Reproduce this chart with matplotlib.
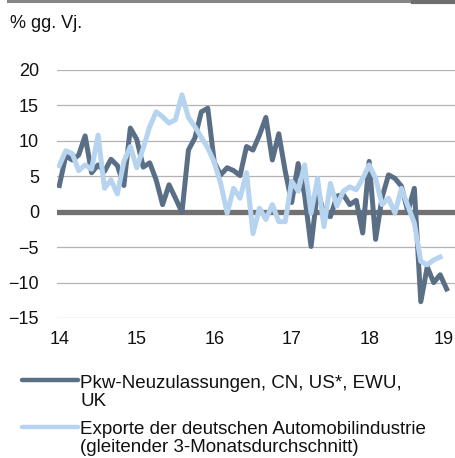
import matplotlib
matplotlib.use("Agg")
import matplotlib.pyplot as plt
import numpy as np
from matplotlib.lines import Line2D
from matplotlib.transforms import ScaledTranslation

plt.rcParams["font.family"] = ["Liberation Sans", "DejaVu Sans"]

# monthly values, Jan 2014 onwards
pkw = [3.7, 7.9, 7.3, 8.0, 10.7, 5.5, 6.6, 5.7, 7.4, 6.5, 3.7, 11.8,
       10.2, 6.3, 6.9, 4.5, 1.0, 3.8, 1.9, -0.1, 8.7, 10.4, 14.1, 14.6,
       7.0, 5.2, 6.2, 5.8, 5.1, 9.2, 8.7, 10.8, 13.3, 7.3, 11.0, 5.7,
       1.3, 6.8, 2.4, -4.9, 3.1, -0.3, -0.7, 2.2, 2.4, 1.0, 1.6, -3.0,
       7.1, -3.9, 2.0, 5.2, 4.7, 3.6, 0.0, 3.3, -12.7, -7.8, -10.0, -8.9,
       -10.9]
exporte = [6.5, 8.6, 8.2, 5.8, 6.6, 6.0, 10.8, 3.3, 4.5, 2.5, 7.1, 9.2,
           6.2, 9.0, 12.0, 14.1, 13.4, 12.5, 13.0, 16.5, 13.3, 12.0, 10.5, 9.0,
           7.0, 4.0, -0.2, 3.3, 1.9, 5.5, -3.1, 0.5, -1.1, 1.0, -1.4, -1.4,
           4.3, 2.9, 6.6, -0.2, 4.7, -2.1, 4.0, 0.8, 2.9, 3.5, 3.1, 4.7,
           6.6, 4.7, 1.0, 1.9, -0.2, 3.3, 0.8, -1.6, -7.0, -7.5, -6.8, -6.4]
year_ticks = [14, 15, 16, 17, 18, 19]
y_ticks = [-15, -10, -5, 0, 5, 10, 15, 20]

label_pkw = ["Pkw-Neuzulassungen, CN, US*, EWU,", "UK"]
label_exp = ["Exporte der deutschen Automobilindustrie",
             "(gleitender 3-Monatsdurchschnitt)"]

dark = "#5a6f86"
light = "#b6d3ef"
fs = 13
fs_leg = 13.5

W, H = 455, 458
fig = plt.figure(figsize=(W / 100, H / 100), dpi=100)
ax = fig.add_axes([57 / W, 1 - 318 / H, 1 - 57 / W, (318 - 70) / H])

x_pkw = 14 + np.arange(len(pkw)) / 12
x_exp = 14 + np.arange(len(exporte)) / 12

for v in y_ticks:
    if v == 0:
        ax.axhline(v, color="#717171", lw=3.8, zorder=1)
    else:
        ax.axhline(v, color="#b3b3b3", lw=0.9, zorder=0)

ax.plot(x_pkw, pkw, color=dark, lw=3.6, solid_joinstyle="round", zorder=3)
ax.plot(x_exp, exporte, color=light, lw=3.6, solid_joinstyle="round", zorder=4)

ax.set_xlim(14 - 0.03, 14 + 61.3 / 12)
ax.set_ylim(-15, 20)
ax.set_xticks(year_ticks)
ax.set_yticks(y_ticks)
ax.tick_params(length=0, labelsize=fs, colors="#111111")
ax.tick_params(axis="y", pad=13)
ax.tick_params(axis="x", pad=9)
for s in ax.spines.values():
    s.set_visible(False)

# keep the last year label inside the picture
last = ax.get_xticklabels()[-1]
last.set_transform(last.get_transform() + ScaledTranslation(-0.03, 0, fig.dpi_scale_trans))


def px(x, y):
    return x / W, 1 - y / H


# header rule
fig.add_artist(Line2D([8 / W, 413 / W], [1 - 1.2 / H] * 2, color="#858585", lw=2.2))
fig.add_artist(Line2D([413 / W, 1.0], [1 - 1.5 / H] * 2, color="#6e6e6e", lw=3.0))

fig.text(*px(10, 27.5), "% gg. Vj.", fontsize=fs, va="baseline", color="#111111")

# legend
fig.add_artist(Line2D([22 / W, 78 / W], [1 - 379.5 / H] * 2, color=dark, lw=3.2,
                      solid_capstyle="round"))
fig.add_artist(Line2D([22 / W, 78 / W], [1 - 427 / H] * 2, color=light, lw=3.2,
                      solid_capstyle="round"))
for k, t in enumerate(label_pkw):
    fig.text(*px(80, 388 + 18 * k), t, fontsize=fs_leg, va="baseline", color="#111111")
for k, t in enumerate(label_exp):
    fig.text(*px(80, 433.5 + 18.5 * k), t, fontsize=fs_leg, va="baseline", color="#111111")

fig.savefig("out.png", dpi=100)
